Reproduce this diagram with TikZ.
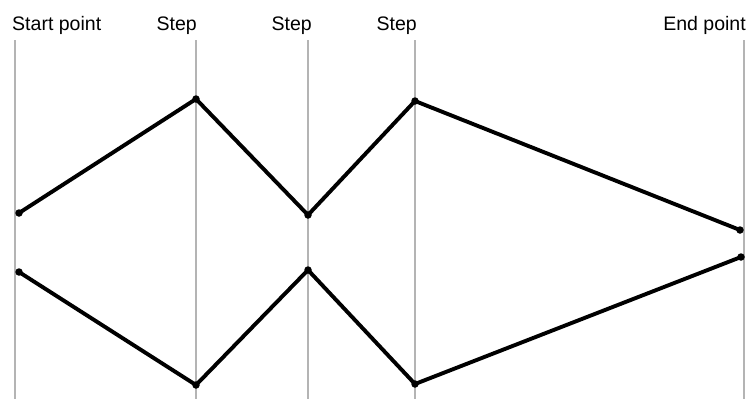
\documentclass[tikz,border=0pt]{standalone}
\usepackage{fontspec}
\setmainfont{Liberation Sans}
\begin{document}
\begin{tikzpicture}[x=1bp,y=-1bp,
  guide/.style={draw={rgb,255:red,180;green,180;blue,180},line width=1.5bp},
  path/.style={draw=black,line width=3.9bp,line join=miter},
  dot/.style={circle,fill=black,inner sep=0pt,minimum size=7.5bp},
  lbl/.style={font=\fontsize{19.6}{21}\selectfont,inner sep=0pt}]
\useasboundingbox (0,0) rectangle (747,399);
% guides
\foreach \n/\x in {g0/15,g1/196,g2/308,g3/415,g4/744}{
  \coordinate (\n t) at (\x,40);
  \coordinate (\n b) at (\x,399);
  \draw[guide] (\n t) -- (\n b);
}
% labels
\node[lbl,anchor=base west] (l0) at (12,30) {Start point};
\node[lbl,anchor=base east] (l1) at (197,30) {Step};
\node[lbl,anchor=base east] (l2) at (312,30) {Step};
\node[lbl,anchor=base east] (l3) at (417,30) {Step};
\node[lbl,anchor=base east] (l4) at (746,30) {End point};
% upper path
\coordinate (a0) at (19,213);
\coordinate (a1) at (196,99);
\coordinate (a2) at (308,215);
\coordinate (a3) at (415,101);
\coordinate (a4) at (740,230);
% lower path
\coordinate (b0) at (19,272);
\coordinate (b1) at (196,385);
\coordinate (b2) at (308,270);
\coordinate (b3) at (415,384);
\coordinate (b4) at (741,257);
\draw[path] (a0) -- (a1) -- (a2) -- (a3) -- (a4);
\draw[path] (b0) -- (b1) -- (b2) -- (b3) -- (b4);
\foreach \p in {a0,a1,a2,a3,a4,b0,b1,b2,b3,b4}{
  \node[dot] at (\p) {};
}
\end{tikzpicture}
\end{document}
